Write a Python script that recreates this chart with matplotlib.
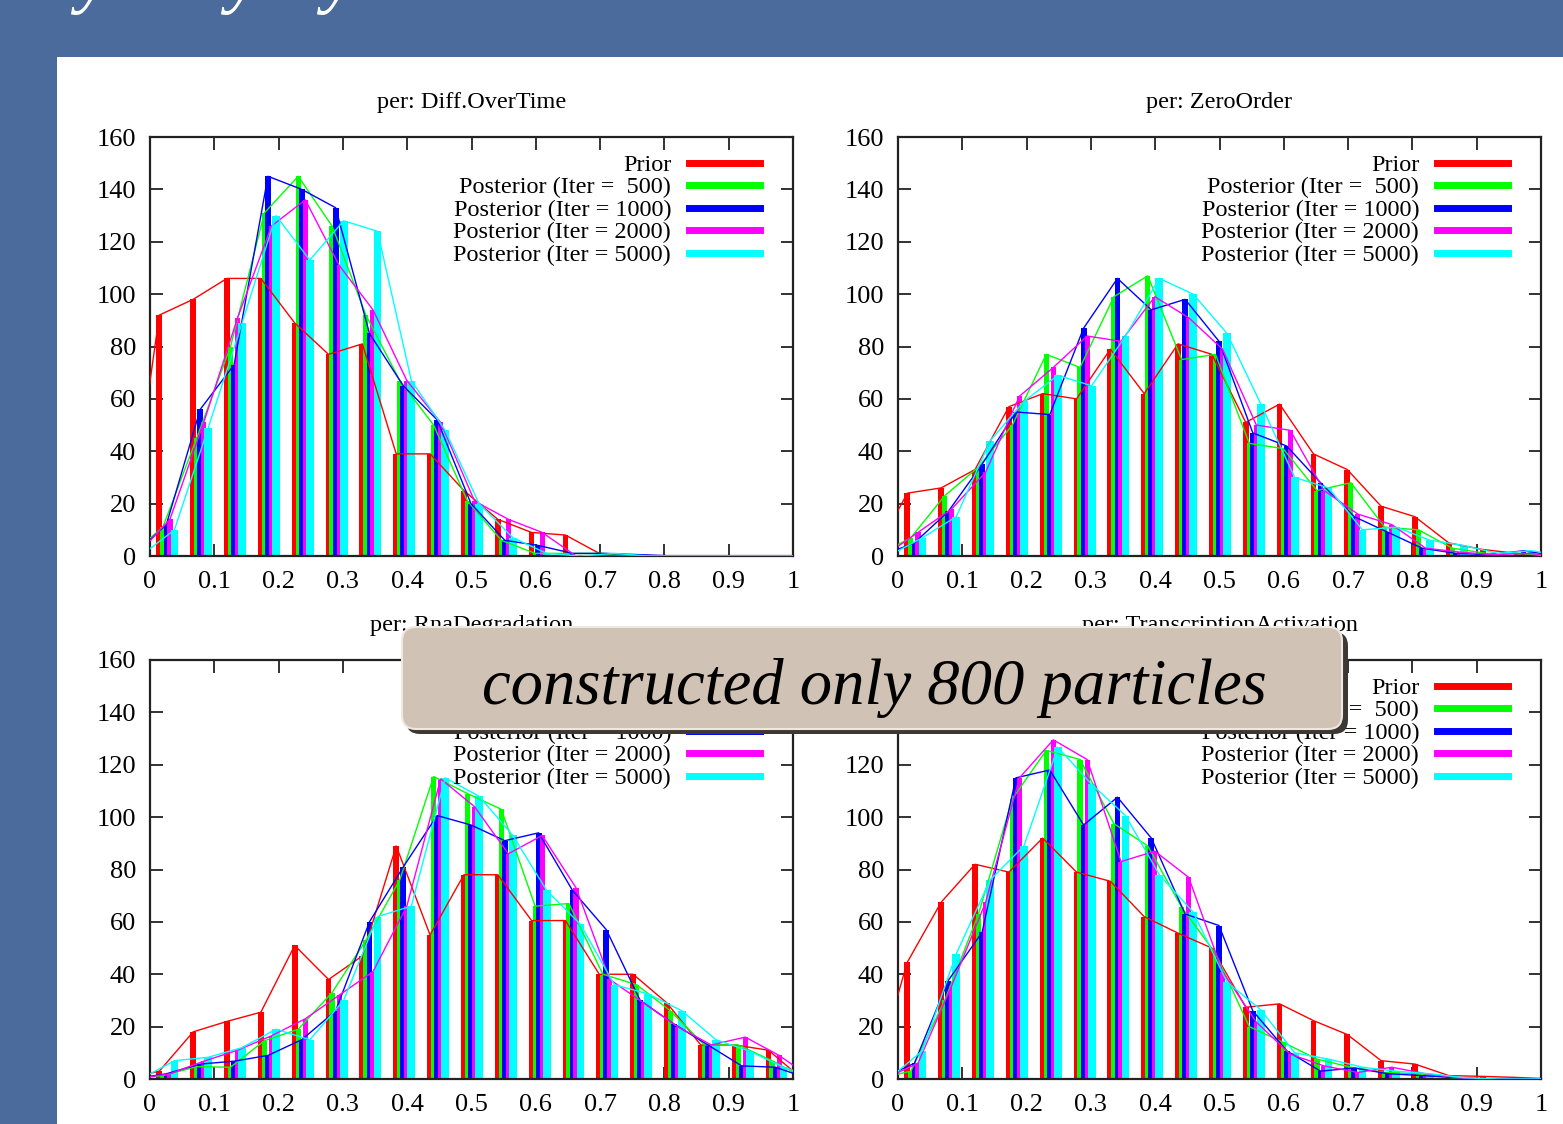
import numpy as np
import matplotlib
matplotlib.use('Agg')
import matplotlib.pyplot as plt
from matplotlib.patches import FancyBboxPatch, Rectangle
from matplotlib.lines import Line2D

# histogram counts (800 particles), 19 bins over [0, 1]
titles = ['per: Diff.OverTime', 'per: ZeroOrder', 'per: RnaDegradation', 'per: TranscriptionActivation']
labels = ['Prior', 'Posterior (Iter =  500)', 'Posterior (Iter = 1000)',
          'Posterior (Iter = 2000)', 'Posterior (Iter = 5000)']

diff_prior = [92, 98, 106, 106, 89, 77, 81, 39, 39, 25, 14, 9, 8, 1, 0, 0, 0, 0, 0]
diff_500 = [11, 45, 80, 131, 145, 126, 92, 67, 50, 21, 6, 1, 1, 1, 0, 0, 0, 0, 0]
diff_1000 = [12, 56, 73, 145, 140, 133, 85, 65, 52, 20, 6, 4, 1, 1, 0.5, 0, 0, 0, 0]
diff_2000 = [14, 51, 91, 126, 136, 111, 94, 67, 51, 21, 14, 9, 0, 0, 0, 0, 0, 0, 0]
diff_5000 = [10, 49, 89, 130, 113, 128, 124, 67, 48, 20, 7, 1, 0, 1, 0, 0, 0, 0, 0]

zero_prior = [24, 26, 33, 57, 62, 60, 79, 62, 81, 77, 51, 58, 39, 33, 19, 15, 5, 2.5, 1]
zero_500 = [7, 23, 34, 50, 77, 72, 99, 107, 75, 77, 43, 41, 25, 28, 11, 10, 3, 1, 1]
zero_1000 = [5, 17, 35, 55, 54, 87, 106, 94, 98, 82, 47, 42, 28, 15, 9, 3, 1, 0.5, 2]
zero_2000 = [9, 18, 32, 61, 72, 84, 82, 99, 91, 79, 50, 48, 25, 16, 12, 3, 1.5, 0.5, 1]
zero_5000 = [7, 15, 44, 59, 69, 65, 84, 106, 100, 85, 58, 30, 26, 10, 11, 6, 4, 1, 2]

rna_prior = [3, 18, 22, 25.5, 51, 38, 47, 89, 55, 78, 78, 60.5, 60.5, 40, 40, 29, 13, 13, 11]
rna_500 = [1.3, 4.7, 4.5, 14.6, 19, 33, 53, 76, 115.5, 109, 103, 66, 67, 40, 36, 26, 13, 13, 7]
rna_1000 = [2, 5.7, 6.8, 9, 15, 26, 60, 81, 100.6, 97, 91, 94, 72, 57, 30, 21, 13, 5, 4.5]
rna_2000 = [2, 6.8, 11, 16.5, 23, 32, 41, 66, 114.6, 104, 86, 93, 73, 38, 29, 20, 13, 16, 9]
rna_5000 = [7, 8.3, 12, 19, 15, 30, 62, 66, 115, 108, 93, 72, 59, 36, 32.5, 26, 15, 10.6, 4.5]

ta_prior = [44.6, 67.5, 82, 79, 92, 79, 75.5, 62, 55.7, 50, 27.4, 28.7, 22.3, 17, 7, 5.7, 1.3, 1, 0.6]
ta_500 = [3, 30, 63, 107, 125.5, 122, 97.5, 89, 65.6, 48, 20, 14, 7.6, 4.5, 2.5, 2, 0.5, 0, 0]
ta_1000 = [6, 37.6, 56, 115, 118, 97, 107.6, 92, 63, 58.6, 26, 10.8, 3, 4.2, 2, 1.3, 0.5, 0, 0]
ta_2000 = [6, 35.7, 67.5, 115, 129.5, 122, 83, 87, 77, 41, 21.7, 9.5, 5, 2.5, 4.5, 2, 0.5, 0, 0]
ta_5000 = [10.8, 47.8, 76, 89, 126.7, 112.5, 100.6, 78, 63.7, 37, 26.4, 10, 7.6, 4.5, 3, 2, 0.5, 0, 0]

panels = [
    [diff_prior, diff_500, diff_1000, diff_2000, diff_5000],
    [zero_prior, zero_500, zero_1000, zero_2000, zero_5000],
    [rna_prior, rna_500, rna_1000, rna_2000, rna_5000],
    [ta_prior, ta_500, ta_1000, ta_2000, ta_5000],
]

colors = ['#ff0000', '#00ff00', '#0000ff', '#ff00ff', '#00ffff']
offsets = [0.010, 0.016, 0.021, 0.027, 0.032]   # bar position inside a bin
widths = [0.009, 0.008, 0.009, 0.008, 0.012]
nbins = 19
bin_start = np.arange(nbins) / nbins

W, H = 1563, 1124
fig = plt.figure(figsize=(W / 100, H / 100), dpi=100)
fig.patch.set_facecolor('#4a6b9b')
fig.add_artist(Rectangle((57 / W, 0), 1 - 57 / W, 1 - 57 / H, transform=fig.transFigure,
                         facecolor='white', edgecolor='none', zorder=-5))

serif = 'Liberation Serif'
fs = 17.5
ax_pos = [(150, 137), (898, 137), (150, 660), (898, 660)]   # left, top in px
aw, ah = 643, 419

for i in range(4):
    l, t = ax_pos[i]
    ax = fig.add_axes([l / W, 1 - (t + ah) / H, aw / W, ah / H])
    for s in range(5):
        vals = np.array(panels[i][s], dtype=float)
        ax.bar(bin_start + offsets[s], vals, width=widths[s], align='edge',
               color=colors[s], linewidth=0, zorder=2)
    for s in range(5):
        vals = np.array(panels[i][s], dtype=float)
        xs = np.concatenate([[-1.0 / nbins], bin_start, [1.0]]) + offsets[s] + widths[s] / 2
        ys = np.concatenate([[0], vals, [0]])
        ax.plot(xs, ys, color=colors[s], lw=1.0, zorder=3)
    ax.set_xlim(0, 1)
    ax.set_ylim(0, 160)
    ax.set_xticks(np.arange(0, 1.01, 0.1))
    ax.set_xticklabels(['0', '0.1', '0.2', '0.3', '0.4', '0.5', '0.6', '0.7', '0.8', '0.9', '1'])
    ax.set_yticks(np.arange(0, 161, 20))
    ax.tick_params(direction='in', length=9, width=1.3, top=True, right=True,
                   labelsize=19, color='#222222')
    ax.tick_params(axis='x', pad=11)
    ax.tick_params(axis='y', pad=10)
    for lab in ax.get_xticklabels() + ax.get_yticklabels():
        lab.set_fontfamily(serif)
    for sp in ax.spines.values():
        sp.set_linewidth(1.6)
        sp.set_color('#222222')
    ax.set_title(titles[i], fontsize=fs, fontfamily=serif, pad=21)
    handles = [Line2D([], [], color=c, lw=5) for c in colors]
    ax.legend(handles, labels, loc='upper right', markerfirst=False, frameon=False,
              prop={'family': serif, 'size': fs}, handlelength=2.9, handletextpad=0.75,
              labelspacing=0.02, borderaxespad=0.3, bbox_to_anchor=(0.975, 1.0))

# overlay layer in pixel coordinates
ov = fig.add_axes([0, 0, 1, 1], zorder=10)
ov.set_xlim(0, W)
ov.set_ylim(H, 0)
ov.axis('off')
ov.patch.set_alpha(0)

# cut-off slide title (only descenders visible)
for xc in [92, 242, 338]:
    ov.text(xc, 0, 'y', color='white', fontsize=52, fontstyle='italic', fontfamily=serif,
            ha='center', va='baseline')

ov.add_patch(FancyBboxPatch((406, 632), 942, 102, boxstyle='round,pad=0,rounding_size=14',
                            facecolor='#3e3834', edgecolor='none', zorder=1))
ov.add_patch(FancyBboxPatch((402, 627), 940, 102, boxstyle='round,pad=0,rounding_size=14',
                            facecolor='#d0c2b4', edgecolor='#efe8e0', lw=1.5, zorder=2))
ov.text(874, 688, 'constructed only 800 particles', fontsize=46.5, fontstyle='italic',
        fontfamily=serif, ha='center', va='center', color='black', zorder=3)

fig.savefig('out.png', dpi=100, facecolor=fig.get_facecolor())
